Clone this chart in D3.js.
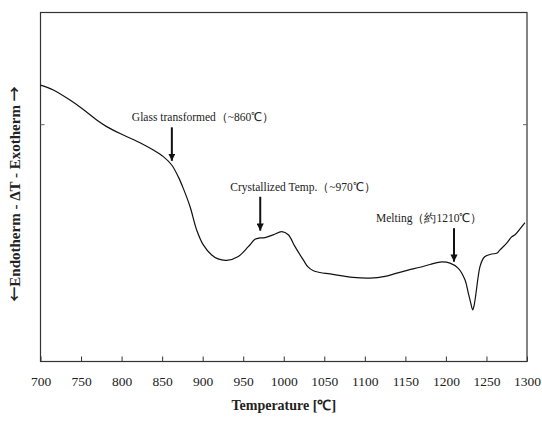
<!DOCTYPE html>
<html>
<head>
<meta charset="utf-8">
<script src="https://cdn.jsdelivr.net/npm/d3@7"></script>
<style>
  html, body { margin: 0; padding: 0; background: #fff; }
  svg { display: block; }
  text { font-family: "Liberation Serif", "Times New Roman", serif; fill: #222; }
</style>
</head>
<body>
<svg id="chart" width="542" height="424"></svg>
<script>
// DTA trace: temperature (°C) and ΔT signal (arbitrary units)
const temperature = [700, 715.8, 736.4, 752.8, 769.3, 781.6, 802.1, 822.7, 839.1, 851.5,
  861.8, 870, 876.1, 884.4, 892.6, 900.8, 911.1, 918.9, 929.6, 944,
  956.3, 964.5, 970.7, 976.9, 987.1, 997.5, 1005.6, 1013.9, 1024.1, 1029.9,
  1036.5, 1044.7, 1057, 1085.4, 1106.4, 1124.9, 1136, 1153.2, 1168, 1180.4,
  1192.7, 1205, 1215.3, 1223.5, 1227.6, 1230.3, 1233, 1234.6, 1237.1, 1239.6,
  1242, 1245.7, 1248.2, 1256.5, 1262.6, 1266.7, 1275, 1281, 1285.2, 1291.4, 1297.5];
const deltaT = [79.2, 77.8, 74.9, 72.2, 69.2, 67.3, 64.9, 62.7, 60.6, 58.7,
  56.3, 52.9, 49.6, 44.4, 37.7, 33.4, 30.5, 29.4, 29.0, 30.1,
  32.9, 35.0, 35.4, 35.5, 36.3, 37.2, 36.3, 32.9, 29.1, 27.1,
  26.0, 25.5, 25.1, 24.1, 23.9, 24.4, 25.1, 26.2, 27.0, 27.8,
  28.5, 28.2, 26.7, 23.4, 19.6, 17.1, 14.8, 15.9, 19.6, 24.0,
  27.2, 29.4, 30.1, 30.8, 31.0, 32.0, 33.9, 35.7, 36.3, 38.0, 39.8];

// Temperature axis ticks
const xTicks = [700, 750, 800, 850, 900, 950, 1000, 1050, 1100, 1150, 1200, 1250, 1300];
const yTicks = [68];

// Thermal events: label, temperature, arrow start and tip (ΔT units)
const eventLabels = ["Glass transformed（~860℃）", "Crystallized Temp.（~970℃）", "Melting（約1210℃）"];
const eventTemps = [862, 971, 1210];
const arrowTops = [67.1, 47.2, 38.2];
const arrowTips = [57.5, 37.5, 28.6];
const labelShift = [-40, -30, -78];

const serif = '"Liberation Serif", "Times New Roman", serif';
const svg = d3.select("#chart");
const margin = { left: 40.5, right: 15, top: 12.5, bottom: 62.5 };
const W = 542, H = 424;

const x = d3.scaleLinear().domain([700, 1300]).range([margin.left, W - margin.right]);
const y = d3.scaleLinear().domain([0, 100]).range([H - margin.bottom, margin.top]);

// Frame
svg.append("rect")
  .attr("x", x(700)).attr("y", y(100))
  .attr("width", x(1300) - x(700)).attr("height", y(0) - y(100))
  .attr("fill", "none").attr("stroke", "#333").attr("stroke-width", 1.2);

// Bottom axis with inward ticks
const xAxis = svg.append("g")
  .attr("transform", `translate(0,${y(0)})`)
  .call(d3.axisBottom(x).tickValues(xTicks).tickFormat(d3.format("d"))
    .tickSizeInner(-5).tickSizeOuter(0).tickPadding(15));
xAxis.select(".domain").remove();
xAxis.selectAll(".tick line").attr("stroke", "#333").attr("stroke-width", 1);
xAxis.selectAll(".tick text")
  .style("font-family", serif)
  .style("font-size", "13.5px").attr("fill", "#222");

// Left/right axes: unlabelled inward ticks
const yLeft = svg.append("g").attr("transform", `translate(${x(700)},0)`)
  .call(d3.axisLeft(y).tickValues(yTicks).tickSizeInner(-4).tickSizeOuter(0).tickFormat(""));
yLeft.select(".domain").remove();
yLeft.selectAll(".tick line").attr("stroke", "#666");
const yRight = svg.append("g").attr("transform", `translate(${x(1300)},0)`)
  .call(d3.axisRight(y).tickValues(yTicks).tickSizeInner(-4).tickSizeOuter(0).tickFormat(""));
yRight.select(".domain").remove();
yRight.selectAll(".tick line").attr("stroke", "#666");

// DTA curve
const pts = temperature.map((t, i) => [t, deltaT[i]]);
svg.append("path")
  .datum(pts)
  .attr("fill", "none").attr("stroke", "#111").attr("stroke-width", 1.2)
  .attr("stroke-linejoin", "round")
  .attr("d", d3.line().x(d => x(d[0])).y(d => y(d[1])).curve(d3.curveCatmullRom.alpha(0.5)));

// Arrowhead marker
svg.append("defs").append("marker")
  .attr("id", "head").attr("viewBox", "0 0 10 10")
  .attr("refX", 10).attr("refY", 5)
  .attr("markerWidth", 3.6).attr("markerHeight", 3.6)
  .attr("markerUnits", "strokeWidth").attr("orient", "auto")
  .append("path").attr("d", "M0,0 L10,5 L0,10 Z").attr("fill", "#111");

// Event arrows and labels
eventLabels.forEach((label, i) => {
  const ax = x(eventTemps[i]);
  svg.append("line")
    .attr("x1", ax).attr("x2", ax)
    .attr("y1", y(arrowTops[i])).attr("y2", y(arrowTips[i]))
    .attr("stroke", "#111").attr("stroke-width", 2)
    .attr("marker-end", "url(#head)");
  svg.append("text")
    .attr("x", ax + labelShift[i]).attr("y", y(arrowTops[i]) - 6)
    .style("font-size", "11.5px")
    .text(label);
});

// Axis titles
svg.append("text")
  .attr("x", (x(700) + x(1300)) / 2).attr("y", 410)
  .attr("text-anchor", "middle")
  .style("font-size", "14px").style("font-weight", "bold")
  .text("Temperature [℃]");

const yTitle = svg.append("text")
  .attr("transform", `translate(20,194) rotate(-90)`)
  .attr("text-anchor", "middle")
  .style("font-size", "15px").style("font-weight", "bold");
yTitle.append("tspan").style("font-family", '"Noto Sans CJK JP", sans-serif').text("←");
yTitle.append("tspan").text("Endotherm - ΔT - Exotherm ");
yTitle.append("tspan").style("font-family", '"Noto Sans CJK JP", sans-serif').text("→");
</script>
</body>
</html>
